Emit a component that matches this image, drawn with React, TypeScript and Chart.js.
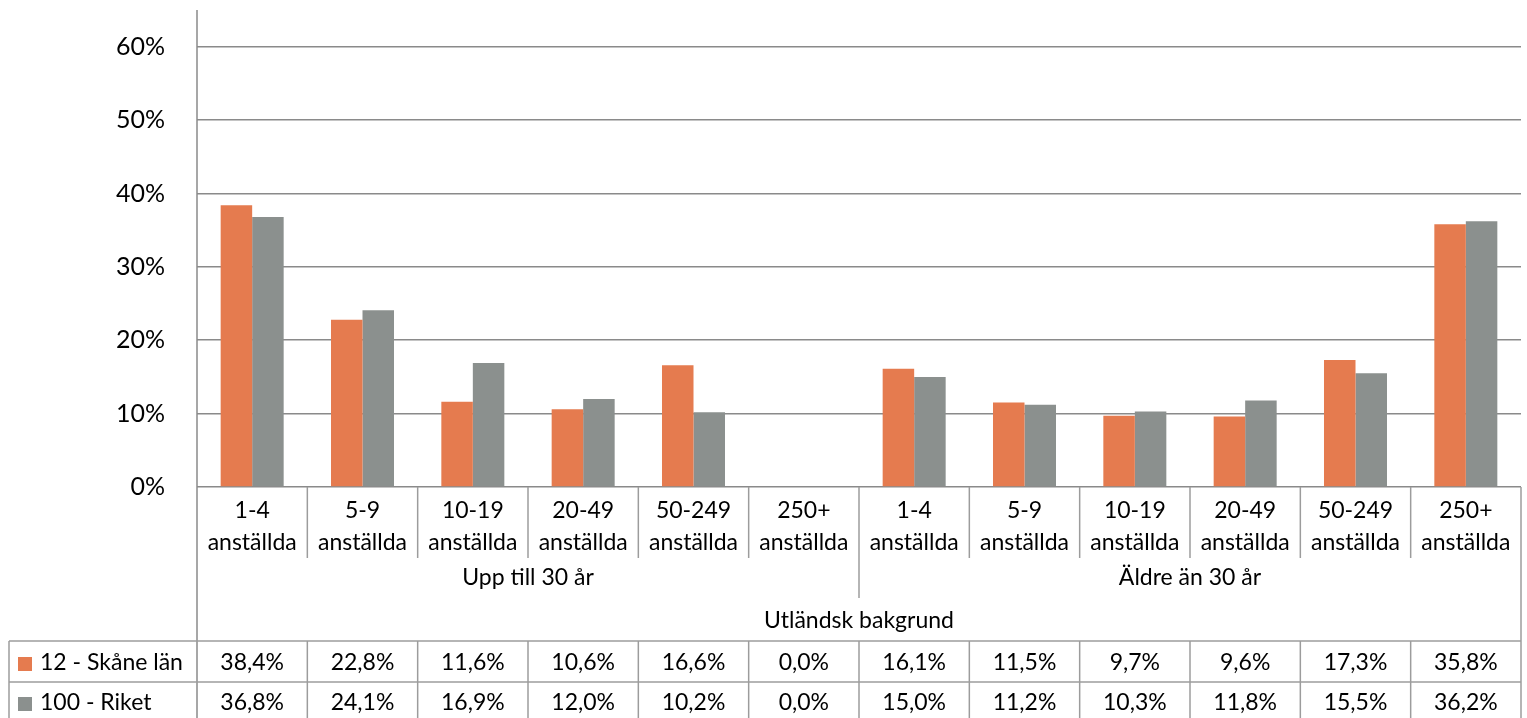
import { useEffect, useRef } from "react";
import { Chart, registerables } from "chart.js";

Chart.register(...registerables);

// ---- data ----
const sizeLabels = ["1-4", "5-9", "10-19", "20-49", "50-249", "250+", "1-4", "5-9", "10-19", "20-49", "50-249", "250+"];
const unitLabel = "anställda";
const groupLabels = ["Upp till 30 år", "Äldre än 30 år"];
const topLabel = "Utländsk bakgrund";
const seriesNames = ["12 - Skåne län", "100 - Riket"];
const skaneValues = [38.4, 22.8, 11.6, 10.6, 16.6, 0.0, 16.1, 11.5, 9.7, 9.6, 17.3, 35.8];
const riketValues = [36.8, 24.1, 16.9, 12.0, 10.2, 0.0, 15.0, 11.2, 10.3, 11.8, 15.5, 36.2];
const yTicks = [0, 10, 20, 30, 40, 50, 60];
const yMax = 65;

const ORANGE = "#E57B4F";
const GRAY = "#8B908E";
const GRID = "#8A8A8A";
const LINE = "#9C9C9C";
const FONT = "Lato, 'Open Sans', sans-serif";

const fmt = (v: number) => v.toFixed(1).replace(".", ",") + "%";

const tablePlugin = {
  id: "tableAxis",
  afterDraw(chart: any) {
    const ctx: CanvasRenderingContext2D = chart.ctx;
    const area = chart.chartArea;
    const xs = chart.scales.x;
    const n = sizeLabels.length;
    const c0 = xs.getPixelForValue(0);
    const c1 = xs.getPixelForValue(1);
    const w = c1 - c0;
    const L = area.left;
    const R = area.right;
    const B = area.bottom;
    const H = chart.height;
    const tableTop = B + 154;
    const rowSep = B + 195;
    const tableLeft = 9;

    ctx.save();
    ctx.strokeStyle = LINE;
    ctx.lineWidth = 1.5;
    const line = (x1: number, y1: number, x2: number, y2: number) => {
      ctx.beginPath();
      ctx.moveTo(x1, y1);
      ctx.lineTo(x2, y2);
      ctx.stroke();
    };
    // left axis
    ctx.strokeStyle = GRID;
    line(L, area.top, L, H);
    ctx.strokeStyle = LINE;
    line(R, B, R, H);
    for (let i = 1; i < n; i++) {
      const x = xs.getPixelForValue(i) - w / 2;
      const end = i % 6 === 0 ? B + 111 : B + 71;
      line(x, B, x, end);
      line(x, tableTop, x, H);
    }
    // table
    line(tableLeft, tableTop, R, tableTop);
    line(tableLeft, rowSep, R, rowSep);
    line(tableLeft, tableTop, tableLeft, H);

    ctx.fillStyle = "#000";
    ctx.textAlign = "center";
    ctx.textBaseline = "alphabetic";
    ctx.font = `23px ${FONT}`;
    for (let i = 0; i < n; i++) {
      const cx = xs.getPixelForValue(i);
      ctx.fillText(sizeLabels[i], cx, B + 31);
      ctx.fillText(unitLabel, cx, B + 63);
      ctx.fillText(fmt(skaneValues[i]), cx, B + 183);
      ctx.fillText(fmt(riketValues[i]), cx, B + 223);
    }
    groupLabels.forEach((g, gi) => {
      const a = xs.getPixelForValue(gi * 6) - w / 2;
      const b = xs.getPixelForValue(gi * 6 + 5) + w / 2;
      ctx.fillText(g, (a + b) / 2, B + 98);
    });
    ctx.fillText(topLabel, (L + R) / 2, B + 141);

    // legend keys
    ctx.textAlign = "left";
    const colors = [ORANGE, GRAY];
    const bases = [B + 183, B + 223];
    seriesNames.forEach((s, si) => {
      ctx.fillStyle = colors[si];
      ctx.fillRect(18, bases[si] - 13, 14, 14);
      ctx.fillStyle = "#000";
      ctx.fillText(s, 40, bases[si]);
    });
    ctx.restore();
  },
};

export default function App() {
  const ref = useRef<HTMLCanvasElement | null>(null);
  useEffect(() => {
    document.body.style.margin = "0";
    const canvas = ref.current!;
    const chart = new Chart(canvas, {
      type: "bar",
      data: {
        labels: sizeLabels.map((s) => s + " " + unitLabel),
        datasets: [
          {
            label: seriesNames[0],
            data: skaneValues,
            backgroundColor: ORANGE,
            borderWidth: 0,
            categoryPercentage: 0.571,
            barPercentage: 1.0,
          },
          {
            label: seriesNames[1],
            data: riketValues,
            backgroundColor: GRAY,
            borderWidth: 0,
            categoryPercentage: 0.571,
            barPercentage: 1.0,
          },
        ],
      },
      options: {
        responsive: false,
        maintainAspectRatio: false,
        animation: false,
        layout: { padding: { left: 0, top: 10, right: 6, bottom: 231 } },
        plugins: {
          legend: { display: false },
          tooltip: { enabled: false },
          title: { display: false },
        },
        scales: {
          x: { display: false },
          y: {
            min: 0,
            max: yMax,
            afterBuildTicks: (scale: any) => {
              scale.ticks = yTicks.map((v) => ({ value: v }));
            },
            afterFit: (scale: any) => {
              scale.width = 197;
              scale.paddingTop = 0;
              scale.paddingBottom = 0;
            },
            border: { display: false },
            grid: { color: GRID, lineWidth: 1.5, drawTicks: false },
            ticks: {
              padding: 32,
              color: "#000",
              font: { family: FONT, size: 25 },
              callback: (v: any) => v + "%",
            },
          },
        },
      },
      plugins: [tablePlugin],
    });
    return () => chart.destroy();
  }, []);
  return (
    <div style={{ width: 1527, height: 718 }}>
      <canvas ref={ref} width={1527} height={718} style={{ display: "block" }} />
    </div>
  );
}
